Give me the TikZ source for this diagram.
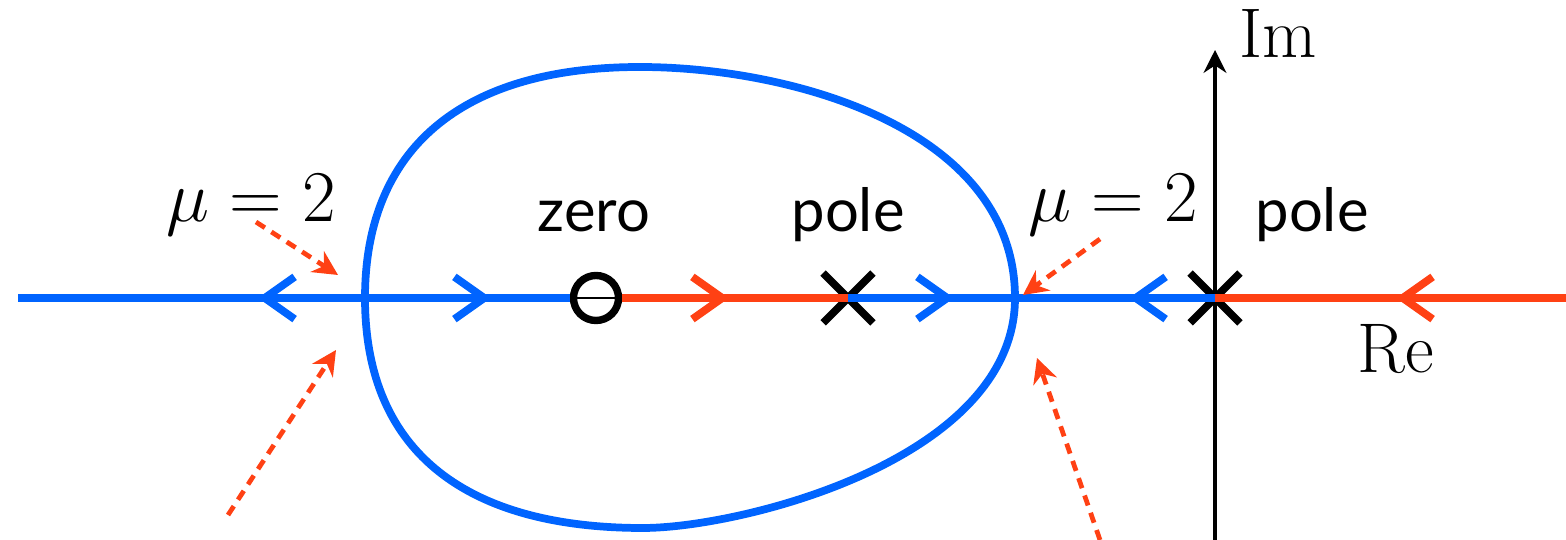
\documentclass[tikz,border=0pt]{standalone}
\usepackage{fontspec}
\newfontfamily\labelfont{Lato}
\usetikzlibrary{arrows.meta, positioning, shapes.misc}
\definecolor{locusblue}{RGB}{0,100,255}
\definecolor{locusred}{RGB}{255,65,20}
\tikzset{
  blueline/.style={line width=2.2pt, color=locusblue},
  redline/.style={line width=2.2pt, color=locusred},
  bluechev/.style={line width=2.2pt, color=locusblue, -{Straight Barb[length=8.5pt, width=12pt]}},
  redchev/.style={line width=2.2pt, color=locusred, -{Straight Barb[length=8.5pt, width=12pt]}},
  polemark/.style={cross out, draw=black, line width=2.2pt, minimum size=0.42cm, inner sep=0pt},
  zeromark/.style={circle, draw=black, line width=2.1pt, minimum size=0.45cm, inner sep=0pt},
  hint/.style={-{Stealth[length=7pt, width=7pt]}, line width=1.35pt, color=locusred, dash pattern=on 3pt off 2.2pt},
  axis/.style={-{Stealth[length=6.5pt, width=6.5pt]}, line width=1pt, color=black},
  mathlabel/.style={font=\fontsize{20}{22}\selectfont, anchor=base, inner sep=0pt},
  textlabel/.style={font=\labelfont\fontsize{17}{20}\selectfont, anchor=base, inner sep=0pt}
}
\begin{document}
\begin{tikzpicture}[x=0.01cm, y=-0.01cm]
  \useasboundingbox (0,0) rectangle (1566,540);
  % axes ends
  \coordinate (reW) at (18,298);
  \coordinate (reE) at (1566,298);
  \coordinate (imS) at (1215,540);
  \coordinate (imN) at (1215,50);

  % imaginary axis
  \draw[axis] (imS) -- (imN);
  \node[mathlabel] (imlabel) at (1278,58) {$\mathrm{Im}$};
  \node[mathlabel] (relabel) at (1396,373) {$\mathrm{Re}$};

  % zero and poles
  \node[zeromark] (zero) at (596,298) {};
  \node[polemark] (poleA) at (848,298) {};
  \node[polemark] (poleB) at (1215,298) {};
  \node[textlabel] (zerotext) at (594,232) {zero};
  \node[textlabel] (poleAtext) at (848,232) {pole};
  \node[textlabel] (poleBtext) at (1312,232) {pole};

  % root locus on the real axis
  \draw[blueline] (reW) -- (zero.west);
  \draw[line width=0.7pt] (zero.west) -- (zero.east);
  \draw[redline] (zero.east) -- (poleA.center);
  \draw[blueline] (poleA.center) -- (poleB.center);
  \draw[redline] (poleB.center) -- (reE);

  % direction marks
  \draw[bluechev] (290,298) -- (258,298);
  \draw[bluechev] (459,298) -- (491,298);
  \draw[redchev] (697,298) -- (729,298);
  \draw[bluechev] (922,298) -- (954,298);
  \draw[bluechev] (1161,298) -- (1129,298);
  \draw[redchev] (1428,298) -- (1396,298);

  % complex branch
  \draw[blueline] (365,298)
    .. controls (365,150) and (460,67) .. (640,67)
    .. controls (790,67) and (1015,128) .. (1015,298)
    .. controls (1015,460) and (740,528) .. (643,528)
    .. controls (470,528) and (365,455) .. cycle;

  % breakaway points
  \node[mathlabel] (muL) at (251,222) {$\mu=2$};
  \node[mathlabel] (muR) at (1113,222) {$\mu=2$};
  \coordinate (hintA) at (256,222);
  \coordinate (hintB) at (228,515);
  \coordinate (hintC) at (1100,239);
  \coordinate (hintD) at (1100,540);
  \draw[hint] (hintA) -- (338,275);
  \draw[hint] (hintB) -- (336,350);
  \draw[hint] (hintC) -- (1023,295);
  \draw[hint] (hintD) -- (1037,358);
\end{tikzpicture}
\end{document}
